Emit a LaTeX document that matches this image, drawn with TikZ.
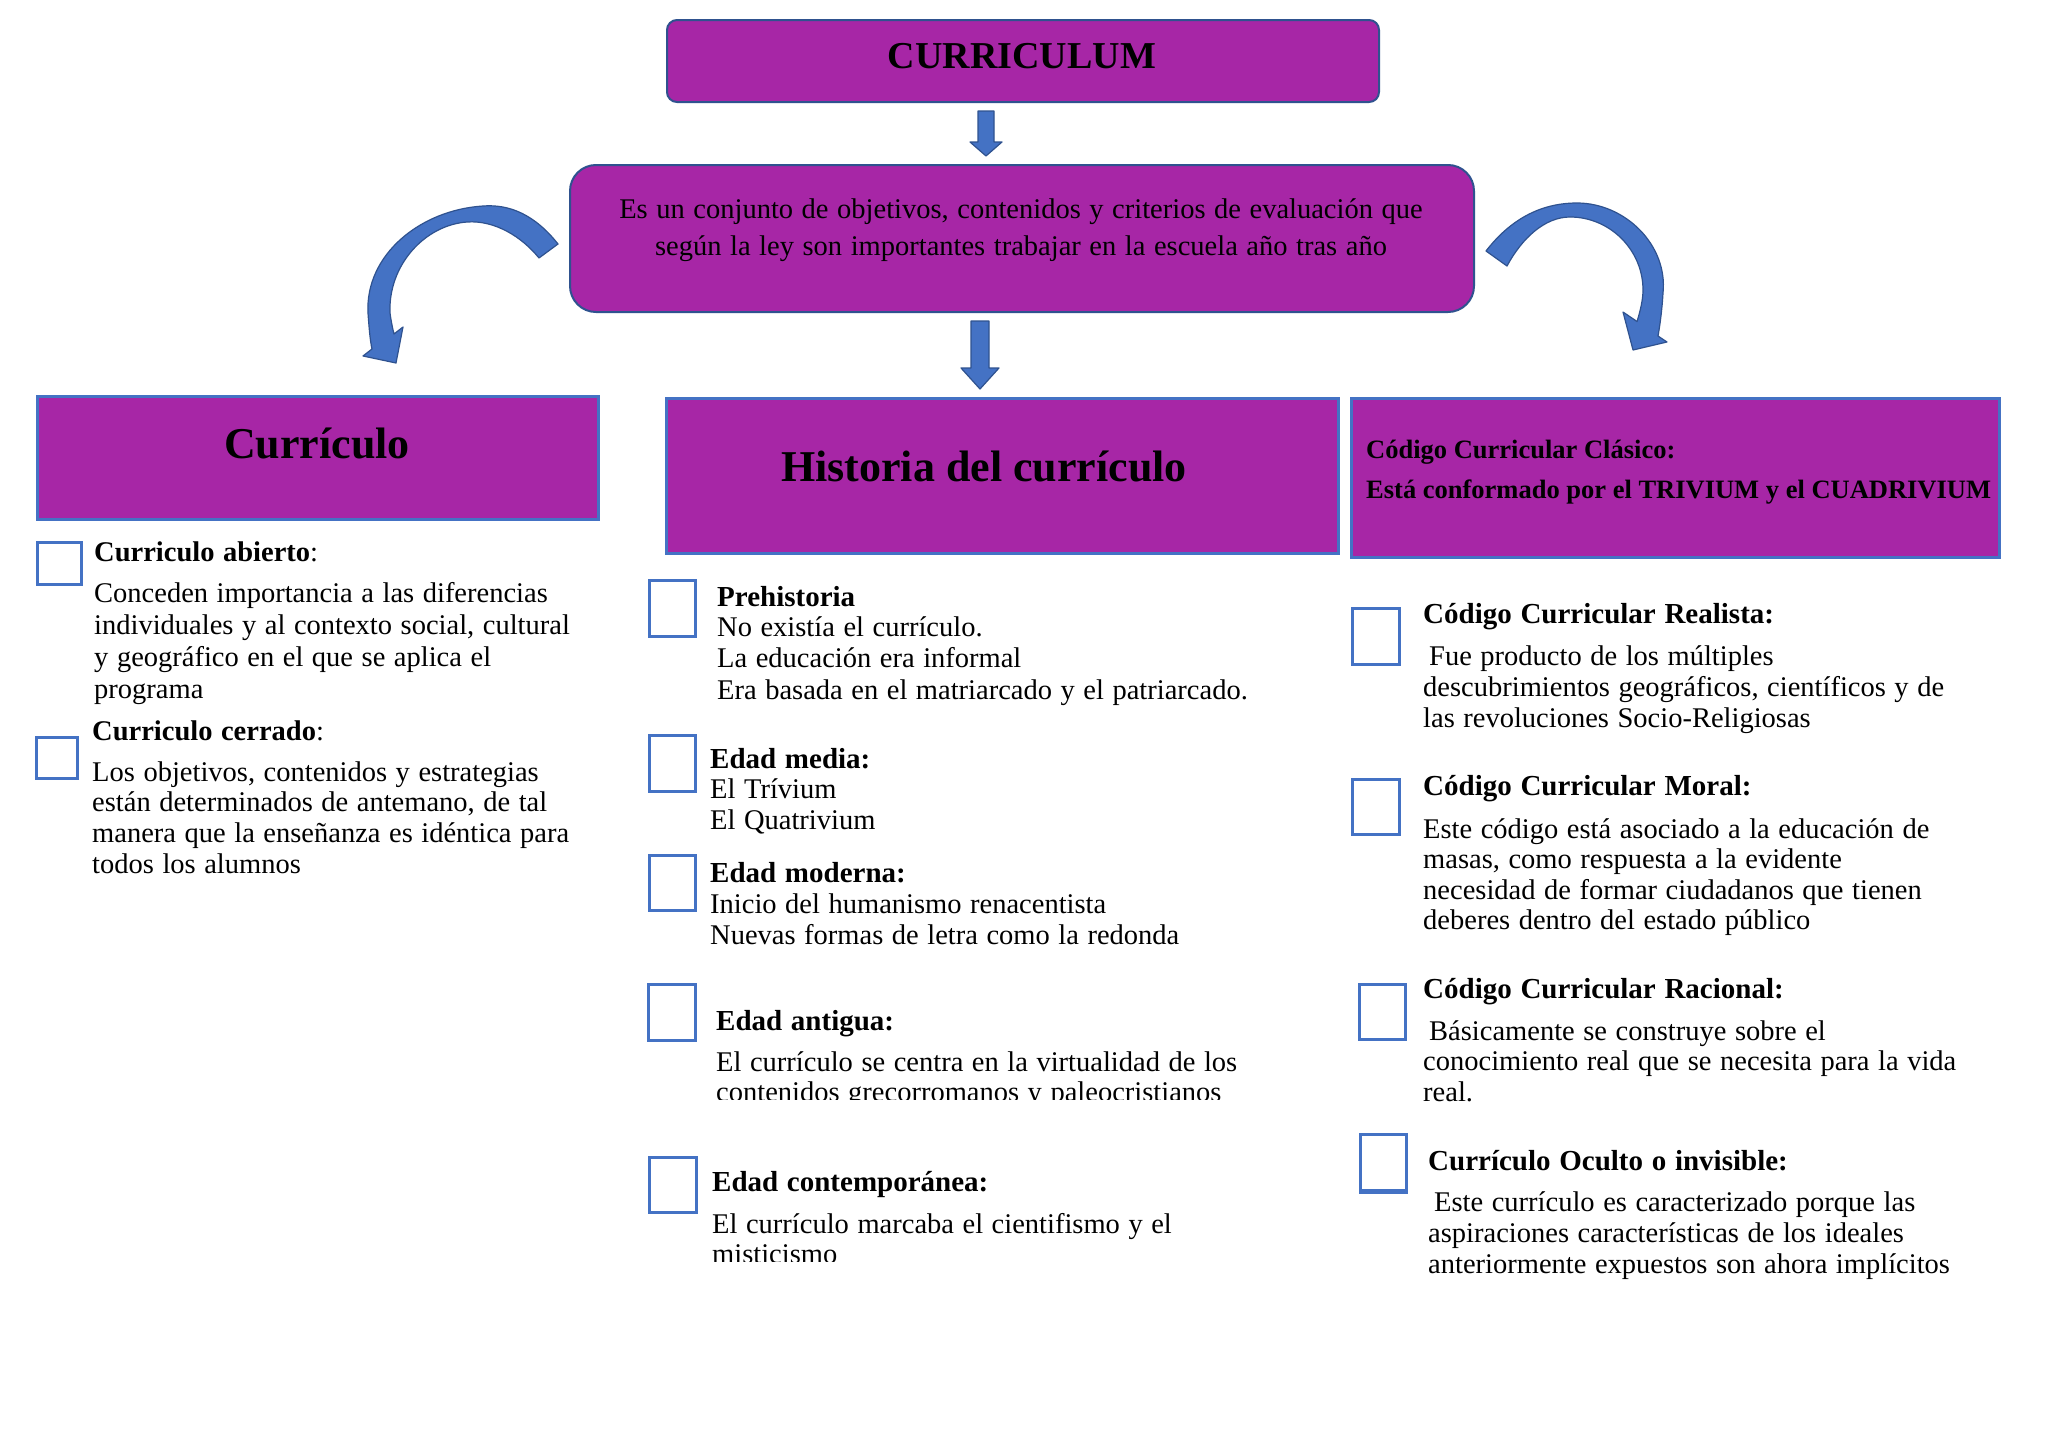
\documentclass[tikz,border=0pt]{standalone}
\usepackage{fontspec}
\setmainfont{Liberation Serif}
\definecolor{purp}{RGB}{167,38,166}
\definecolor{dkblue}{RGB}{47,82,143}
\definecolor{mblue}{RGB}{68,114,196}
\newcommand\wsp{\spaceskip=0.3em plus 0.1em minus 0.05em\relax}
\newcommand\bfs[1]{\fontsize{28.5}{#1}\selectfont\wsp}
\newcommand\hfs[1]{\fontsize{29}{#1}\selectfont\bfseries\wsp}
\newcommand\dfs{\fontsize{28.5}{37}\selectfont\wsp}
\newcommand\lines[1]{\begin{tabular}[t]{@{}l@{}}#1\end{tabular}}
\begin{document}
\begin{tikzpicture}[x=1pt,y=-1pt,
  purpround/.style={draw=dkblue, line width=2pt, fill=purp, rounded corners=10pt, inner sep=0pt},
  purprect/.style={draw=mblue, line width=2.5pt, fill=purp, inner sep=0pt},
  chk/.style={draw=mblue, line width=2.5pt, inner sep=0pt},
  txt/.style={anchor=base west, inner sep=0pt},
  blockarrow/.style={fill=mblue, draw=dkblue, line width=1.2pt, line join=round},
]
\fill[white] (0,0) rectangle (2048,1448);
\useasboundingbox (0,0) rectangle (2048,1448);

% title
\node[purpround, minimum width=712pt, minimum height=82pt, anchor=north west] (title) at (666,19) {};
\node[anchor=base, inner sep=0pt, font=\fontsize{38}{40}\selectfont\bfseries] (titletxt) at (1022,68) {CURRICULUM};

% arrow 1
\draw[blockarrow, shift={(986,111)}] (-8,0) -- (8,0) -- (8,31) -- (16,31) -- (0,45) -- (-16,31) -- (-8,31) -- cycle;

% description
\node[purpround, rounded corners=26pt, minimum width=904pt, minimum height=147pt, anchor=north west] (desc) at (569,164) {};
\node[anchor=base, inner sep=0pt, font=\dfs] (desctxt) at (1021,218)
 {\begin{tabular}[t]{@{}c@{}}Es un conjunto de objetivos, contenidos y criterios de evaluación que\\según la ley son importantes trabajar en la escuela año tras año\end{tabular}};

% arrow 2
\draw[blockarrow, shift={(980,321)}] (-9,0) -- (9,0) -- (9,47) -- (19,47) -- (0,68) -- (-19,47) -- (-9,47) -- cycle;

% left curved arrow
\draw[blockarrow] (558,244) .. controls (535,215) and (510,204) .. (483,206)
  .. controls (420,210) and (365,255) .. (368,313)
  .. controls (369,327) and (370,340) .. (372,349)
  -- (363,356) -- (396,363) -- (403,327) -- (394,334)
  .. controls (392,326) and (391,320) .. (390,313)
  .. controls (388,265) and (425,225) .. (467,222)
  .. controls (495,220) and (522,237) .. (539,258) -- cycle;

% right curved arrow
\draw[blockarrow] (1486,251) .. controls (1510,220) and (1540,203) .. (1577,203)
  .. controls (1625,203) and (1668,245) .. (1663,293)
  .. controls (1662,310) and (1660,325) .. (1658,336)
  -- (1667,342) -- (1633,350) -- (1623,312) -- (1637,321.5)
  .. controls (1640,312) and (1643,300) .. (1643,290)
  .. controls (1643,250) and (1610,217) .. (1570,217)
  .. controls (1545,217) and (1522,238) .. (1507,266) -- cycle;

% section headers
\node[purprect, minimum width=561pt, minimum height=123pt, anchor=north west] (curr) at (36,395) {};
\node[anchor=base, inner sep=0pt, font=\fontsize{44}{46}\selectfont\bfseries] (currtxt) at (317,458) {Currículo};

\node[purprect, minimum width=672pt, minimum height=155pt, anchor=north west] (hist) at (665,397) {};
\node[anchor=base, inner sep=0pt, font=\fontsize{44}{46}\selectfont\bfseries] (histtxt) at (984,481) {Historia del currículo};

\node[purprect, minimum width=648pt, minimum height=159pt, anchor=north west] (cod) at (1350,397) {};
\node[txt, font=\fontsize{26.5}{40}\selectfont\bfseries] (codtxt) at (1366,458) {\lines{Código Curricular Clásico:\\Está conformado por el TRIVIUM y el CUADRIVIUM}};

% left column
\node[chk, minimum width=44pt, minimum height=42pt, anchor=north west] (c1) at (36,541) {};
\node[txt, font=\bfs{32}] (h1) at (94,561) {\textbf{Curriculo abierto}:};
\node[txt, font=\bfs{32}] (b1) at (94,602) {\lines{Conceden importancia a las diferencias\\individuales y al contexto social, cultural\\y geográfico en el que se aplica el\\programa}};
\node[chk, minimum width=41pt, minimum height=41pt, anchor=north west] (c2) at (35,736) {};
\node[txt, font=\bfs{30.8}] (h2) at (92,740) {\textbf{Curriculo cerrado}:};
\node[txt, font=\bfs{30.8}] (b2) at (92,781) {\lines{Los objetivos, contenidos y estrategias\\están determinados de antemano, de tal\\manera que la enseñanza es idéntica para\\todos los alumnos}};

% middle column
\node[chk, minimum width=46pt, minimum height=56pt, anchor=north west] (m1) at (648,579) {};
\node[txt, font=\hfs{31}] (mh1) at (717,606) {Prehistoria};
\node[txt, font=\bfs{31.5}] (mb1) at (717,636) {\lines{No existía el currículo.\\La educación era informal\\Era basada en el matriarcado y el patriarcado.}};

\node[chk, minimum width=46pt, minimum height=56pt, anchor=north west] (m2) at (648,734) {};
\node[txt, font=\hfs{30}] (mh2) at (710,768) {Edad media:};
\node[txt, font=\bfs{31}] (mb2) at (710,798) {\lines{El Trívium\\El Quatrivium}};

\node[chk, minimum width=46pt, minimum height=55pt, anchor=north west] (m3) at (648,854) {};
\node[txt, font=\hfs{30}] (mh3) at (710,882) {Edad moderna:};
\node[txt, font=\bfs{31}] (mb3) at (710,913) {\lines{Inicio del humanismo renacentista\\Nuevas formas de letra como la redonda}};

\node[chk, minimum width=47pt, minimum height=56pt, anchor=north west] (m4) at (647,983) {};
\node[txt, font=\hfs{30}] (mh4) at (716,1030) {Edad antigua:};
\begin{scope}
\clip (700,1040) rectangle (1340,1099);
\node[txt, font=\bfs{30.5}] (mb4) at (716,1071) {\lines{El currículo se centra en la virtualidad de los\\contenidos grecorromanos y paleocristianos}};
\end{scope}

\node[chk, minimum width=47pt, minimum height=55pt, anchor=north west] (m5) at (648,1156) {};
\node[txt, font=\hfs{30}] (mh5) at (712,1191) {Edad contemporánea:};
\begin{scope}
\clip (700,1202) rectangle (1340,1261);
\node[txt, font=\bfs{30.5}] (mb5) at (712,1233) {\lines{El currículo marcaba el cientifismo y el\\misticismo}};
\end{scope}

% right column
\node[chk, minimum width=47pt, minimum height=56pt, anchor=north west] (r1) at (1351,607) {};
\node[txt, font=\hfs{30}] (rh1) at (1423,623) {Código Curricular Realista:};
\node[txt, font=\bfs{31}] (rb1) at (1423,665) {\lines{\hspace{6pt}Fue producto de los múltiples\\descubrimientos geográficos, científicos y de\\las revoluciones Socio-Religiosas}};

\node[chk, minimum width=47pt, minimum height=55pt, anchor=north west] (r2) at (1351,778) {};
\node[txt, font=\hfs{30}] (rh2) at (1423,795) {Código Curricular Moral:};
\node[txt, font=\bfs{30.5}] (rb2) at (1423,838) {\lines{Este código está asociado a la educación de\\masas, como respuesta a la evidente\\necesidad de formar ciudadanos que tienen\\deberes dentro del estado público}};

\node[chk, minimum width=46pt, minimum height=55pt, anchor=north west] (r3) at (1358,983) {};
\node[txt, font=\hfs{30}] (rh3) at (1423,998) {Código Curricular Racional:};
\node[txt, font=\bfs{30.5}] (rb3) at (1423,1040) {\lines{\hspace{6pt}Básicamente se construye sobre el\\conocimiento real que se necesita para la vida\\real.}};

\node[chk, minimum width=46pt, minimum height=56pt, anchor=north west] (r4) at (1359,1133) {};
\draw[mblue, line width=4.5pt] (r4.south west) -- (r4.south east);
\node[txt, font=\hfs{30}] (rh4) at (1428,1170) {Currículo Oculto o invisible:};
\node[txt, font=\bfs{31}] (rb4) at (1428,1211) {\lines{\hspace{6pt}Este currículo es caracterizado porque las\\aspiraciones características de los ideales\\anteriormente expuestos son ahora implícitos}};
\end{tikzpicture}
\end{document}
